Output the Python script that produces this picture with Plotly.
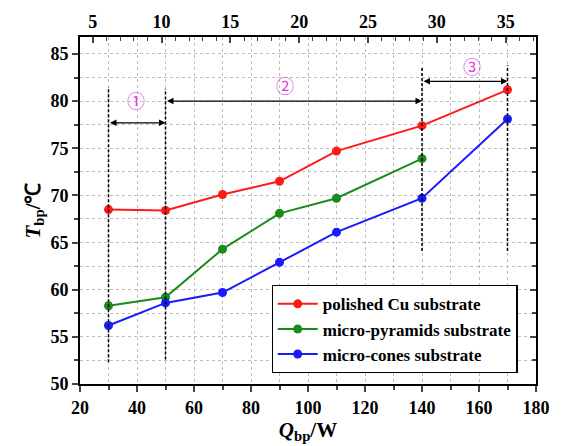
import plotly.graph_objects as go

Q = [30, 50, 70, 90, 110, 140, 170]
Q_green = [30, 50, 70, 90, 110, 140]
T_polished = [68.5, 68.4, 70.1, 71.5, 74.7, 77.4, 81.2]
T_pyramids = [58.3, 59.2, 64.3, 68.1, 69.7, 73.9]
T_cones = [56.2, 58.6, 59.7, 62.9, 66.1, 69.7, 78.1]

names = ["polished Cu substrate", "micro-pyramids substrate", "micro-cones substrate"]
colors = ["#ff1a1a", "#1a8a1a", "#1a1aff"]

# region boundaries (dashed lines): x, y_bottom, y_top
bound_x = [30, 50, 140, 170]
bound_y0 = [52.3, 52.6, 64.1, 64.1]
bound_y1 = [81.5, 81.3, 83.6, 83.8]
# region arrows: x_start, x_end, y; labels
arrow_x0 = [30, 50, 140]
arrow_x1 = [50, 140, 170]
arrow_y = [77.7, 80.0, 82.1]
label_x = [39.5, 92, 157.5]
label_y = [80.1, 81.7, 83.7]
labels = ["①", "②", "③"]

top_ticks = [5, 10, 15, 20, 25, 30, 35]

serif = "Liberation Serif"
fig = go.Figure()
for xs, ys, nm, c in [(Q, T_polished, names[0], colors[0]),
                      (Q_green, T_pyramids, names[1], colors[1]),
                      (Q, T_cones, names[2], colors[2])]:
    fig.add_trace(go.Scatter(x=xs, y=ys, name=nm, mode="lines+markers",
                             line=dict(color=c, width=2),
                             marker=dict(color=c, size=9, symbol="circle")))
# invisible traces to activate secondary axes
fig.add_trace(go.Scatter(x=[10], y=[60], xaxis="x2", yaxis="y", mode="markers",
                         marker=dict(opacity=0), showlegend=False, hoverinfo="skip"))
fig.add_trace(go.Scatter(x=[100], y=[60], xaxis="x", yaxis="y2", mode="markers",
                         marker=dict(opacity=0), showlegend=False, hoverinfo="skip"))

for x, y0, y1 in zip(bound_x, bound_y0, bound_y1):
    fig.add_shape(type="line", xref="x", yref="y", x0=x, x1=x, y0=y0, y1=y1,
                  line=dict(color="black", width=1.5, dash="3px,2px"))

for x0, x1, y in zip(arrow_x0, arrow_x1, arrow_y):
    fig.add_annotation(x=x1, y=y, ax=x0, ay=y, xref="x", yref="y", axref="x", ayref="y",
                       text="", showarrow=True, arrowhead=2, startarrowhead=2,
                       arrowside="end+start", arrowsize=1, startarrowsize=1,
                       arrowwidth=1.3, arrowcolor="black")
for x, y, t in zip(label_x, label_y, labels):
    fig.add_annotation(x=x, y=y, xref="x", yref="y", text=t, showarrow=False,
                       font=dict(family="Noto Sans CJK SC", size=18, color="#e23be2"))

axis_font = dict(family=serif, size=18, color="black", weight="bold")
grid = "#bdbdbd"
fig.update_layout(
    width=562, height=446,
    margin=dict(l=80, r=15, t=37, b=58),
    paper_bgcolor="white", plot_bgcolor="white",
    font=dict(family=serif, color="black"),
    xaxis=dict(range=[20, 180], dtick=20, tick0=20, ticks="outside", ticklen=6, tickwidth=1.5,
               showline=True, linecolor="black", linewidth=2,
               showgrid=True, gridcolor=grid, griddash="dot", gridwidth=1,
               minor=dict(dtick=10, ticks="outside", ticklen=4, tickwidth=1.5, showgrid=True,
                          gridcolor=grid, griddash="dot"),
               tickfont=axis_font, zeroline=False,
               title=dict(text="<i>Q</i><sub>bp</sub>/W",
                          font=dict(family=serif, size=21, weight="bold"), standoff=2)),
    xaxis2=dict(overlaying="x", side="top", range=[4.08, 37.2], tickvals=top_ticks,
                ticks="inside", ticklen=6, tickwidth=1.5, showgrid=False, zeroline=False,
                showline=True, linecolor="black", linewidth=2,
                minor=dict(dtick=1, tick0=0, ticks="inside", ticklen=4, tickwidth=1.2),
                tickfont=axis_font),
    yaxis=dict(range=[50, 86.8], dtick=5, tick0=50, ticks="outside", ticklen=6, tickwidth=1.5,
               showline=True, linecolor="black", linewidth=2,
               showgrid=True, gridcolor=grid, griddash="dot", gridwidth=1,
               minor=dict(dtick=2.5, ticks="outside", ticklen=4, tickwidth=1.5, showgrid=True,
                          gridcolor=grid, griddash="dot"),
               tickfont=axis_font, zeroline=False,
               title=dict(text="<i>T</i><sub>bp</sub>/℃",
                          font=dict(family=serif, size=21, weight="bold"), standoff=4)),
    yaxis2=dict(overlaying="y", side="right", range=[50, 86.8], dtick=5, tick0=50,
                ticks="inside", ticklen=6, tickwidth=1.5, showticklabels=False,
                showgrid=False, zeroline=False, showline=True, linecolor="black", linewidth=2,
                minor=dict(dtick=2.5, ticks="inside", ticklen=4, tickwidth=1.5)),
    legend=dict(x=0.42, y=0.285, xanchor="left", yanchor="top",
                bgcolor="white", bordercolor="black", borderwidth=1.2,
                font=dict(family=serif, size=17, color="black", weight="bold"),
                itemwidth=40, tracegroupgap=0),
    showlegend=True,
)

fig.write_html("out.html")
